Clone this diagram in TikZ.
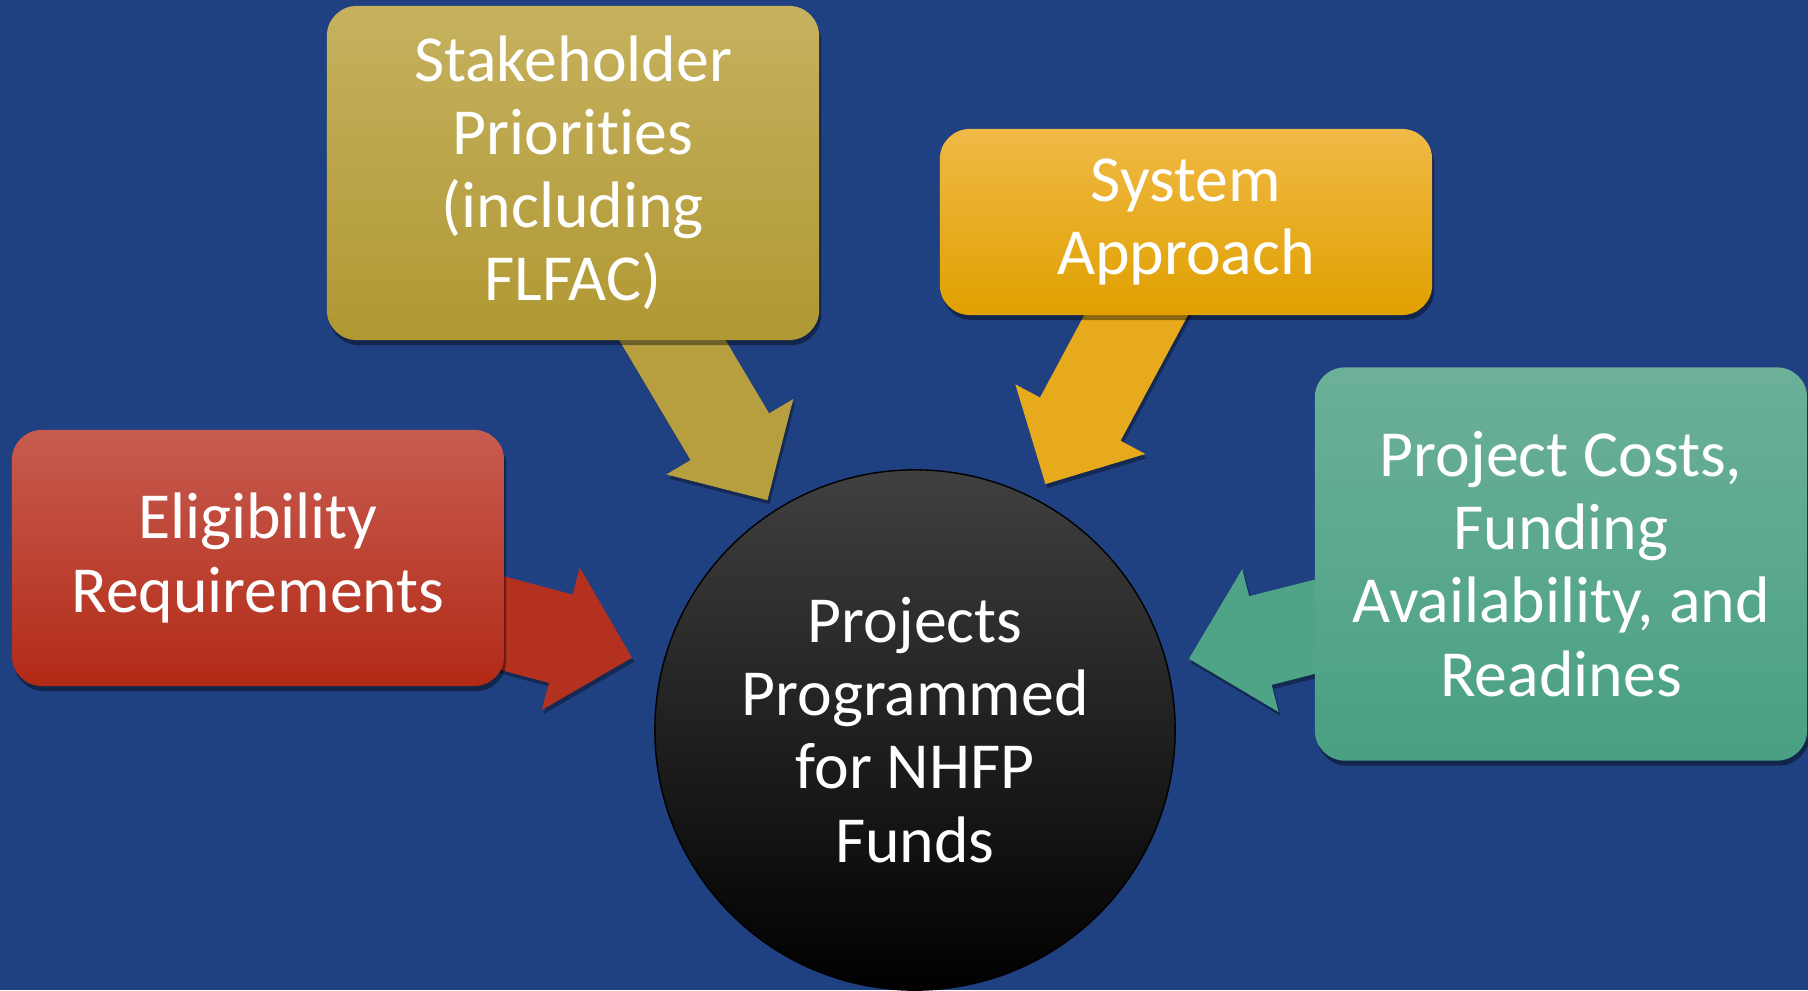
\documentclass[tikz,border=0pt]{standalone}
\usepackage{fontspec}
\setmainfont{Carlito}[Ligatures=NoCommon]
\usetikzlibrary{calc,shapes.arrows,shadows}

\definecolor{backblue}{RGB}{31,64,129}
\definecolor{eligtop}{RGB}{199,92,80}
\definecolor{eligbot}{RGB}{178,42,22}
\definecolor{staketop}{RGB}{198,177,95}
\definecolor{stakebot}{RGB}{176,152,50}
\definecolor{systop}{RGB}{240,185,70}
\definecolor{sysbot}{RGB}{224,160,0}
\definecolor{projtop}{RGB}{108,176,152}
\definecolor{projbot}{RGB}{72,160,130}

\pgfdeclarelayer{back}
\pgfdeclarelayer{arrows}
\pgfsetlayers{back,arrows,main}

\begin{document}
\begin{tikzpicture}[x=0.01cm,y=-0.01cm,
  every node/.style={font=\fontsize{18.7}{20.8}\selectfont,text=white,align=center},
  box/.style={rounded corners=0.3cm,minimum width=4.92cm,
    drop shadow={fill=black,opacity=0.4,shadow xshift=0.02cm,shadow yshift=-0.05cm}},
  feed/.style={single arrow,single arrow tip angle=90,single arrow head extend=0.28cm,
    inner sep=0pt,inner ysep=0.45cm}]

\begin{pgfonlayer}{back}
\fill[backblue] (0,0) rectangle (1808,990);
\end{pgfonlayer}

\node[box,minimum height=2.56cm,top color=eligtop,bottom color=eligbot] (elig) at (258,558) {Eligibility\\Requirements};
\node[box,minimum height=3.34cm,top color=staketop,bottom color=stakebot] (stake) at (573,173) {Stakeholder\\Priorities\\(including\\FLFAC)};
\node[box,minimum height=1.86cm,top color=systop,bottom color=sysbot] (sys) at (1186,222) {System\\Approach};
\node[box,minimum height=3.93cm,top color=projtop,bottom color=projbot] (proj) at (1561,564) {Project Costs,\\Funding\\Availability, and\\Readines};

\node[circle,draw=black,minimum size=5.2cm,top color=black!75,middle color=black,bottom color=black] (funds) at (915,730) {Projects\\Programmed\\for NHFP\\Funds};

% arrow tips
\coordinate (t1) at (633,658);
\coordinate (t2) at (768,501);
\coordinate (t3) at (1045,485);
\coordinate (t4) at (1188,659);

\begin{pgfonlayer}{arrows}
\foreach \from/\to/\col in {elig/t1/eligbot!85!eligtop, stake/t2/stakebot!70!staketop, sys/t3/sysbot!60!systop, proj/t4/projbot!80!projtop}
  \path let \p1=($(\to)-(\from.center)$), \n1={atan2(\y1,\x1)}, \n2={veclen(\x1,\y1)} in
    node[feed,fill=\col,rotate=\n1,minimum height=\n2,anchor=tip,
      drop shadow={fill=black,opacity=0.35,shadow xshift=0.02cm,shadow yshift=-0.04cm}] at (\to) {};
\end{pgfonlayer}

\end{tikzpicture}
\end{document}
